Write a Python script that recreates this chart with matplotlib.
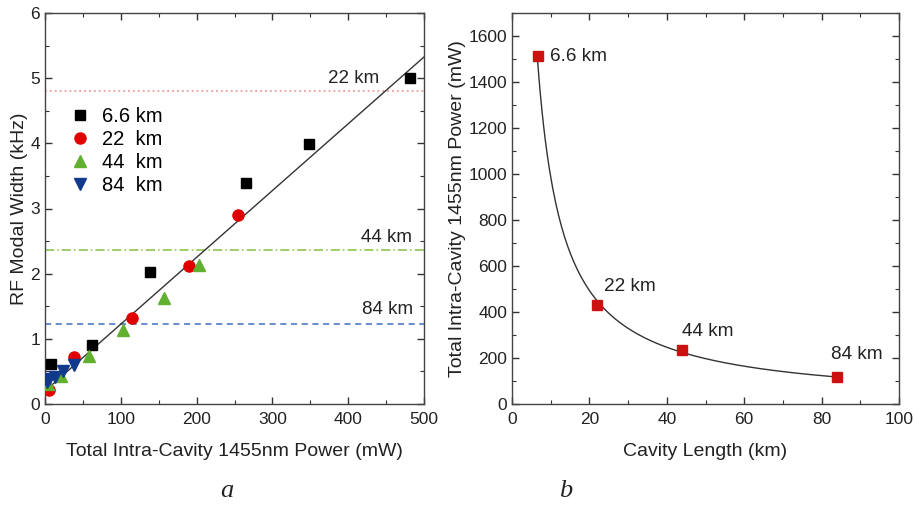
import numpy as np
import matplotlib.pyplot as plt
from matplotlib.ticker import MultipleLocator

plt.rcParams['font.family'] = ['Liberation Sans', 'DejaVu Sans']

# ---- panel a: RF modal width vs intra-cavity power ----
p66 = [7.5, 61.6, 138, 265, 348, 482]
w66 = [0.61, 0.91, 2.02, 3.39, 3.99, 5.01]
p22 = [5.7, 38, 115, 190, 255]
w22 = [0.21, 0.72, 1.32, 2.12, 2.90]
p44 = [4.4, 20.7, 58.5, 103, 157, 203]
w44 = [0.30, 0.43, 0.73, 1.14, 1.62, 2.13]
p84 = [2, 5, 13, 24, 38]
w84 = [0.33, 0.38, 0.42, 0.51, 0.60]

fit_slope = 0.01025     # kHz per mW
fit_icpt = 0.2
fit_range = [5, 500]

lim_vals = [4.80, 2.37, 1.23]          # horizontal limit lines
lim_names = ['22 km', '44 km', '84 km']
lim_colors = ['#ee8a8a', '#88c040', '#3f6fc0']
lim_styles = [(0, (1.2, 2.0)), (0, (6, 2, 1, 2)), (0, (4, 3))]
lim_txt = [(441, 5.0), (484, 2.56), (486, 1.45)]

# ---- panel b: power vs cavity length ----
L = np.array([6.6, 22, 44, 84])
P = np.array([1513, 430, 234, 116])
L_names = ['6.6 km', '22 km', '44 km', '84 km']
L_txt = [(9.8, 1509), (23.8, 509), (43.9, 317), (82.4, 217)]

fig = plt.figure(figsize=(9.14, 5.05), dpi=100)
ax1 = fig.add_axes([45/914, 101/505, 379/914, 391/505])
ax2 = fig.add_axes([512/914, 101/505, 387/914, 391/505])

tc = '#222222'
for ax in (ax1, ax2):
    ax.tick_params(which='both', direction='in', top=True, right=True,
                   labelsize=12.5, colors='#333333', labelcolor=tc)
    ax.tick_params(which='major', length=5, width=1)
    ax.tick_params(which='minor', length=3, width=0.8)
    ax.tick_params(axis='x', pad=6)
    for s in ax.spines.values():
        s.set_color('#444444')
        s.set_linewidth(1)

# panel a
for v, c, ls in zip(lim_vals, lim_colors, lim_styles):
    ax1.axhline(v, color=c, lw=1.1, ls=ls, zorder=1)
for (x, y), t in zip(lim_txt, lim_names):
    ax1.text(x, y, t, ha='right', va='center', fontsize=13.5, color=tc)

xf = np.array(fit_range)
ax1.plot(xf, fit_icpt + fit_slope * xf, color='#333333', lw=1, zorder=2)

ax1.plot(p66, w66, 's', color='black', ms=7, label='6.6 km', zorder=3)
ax1.plot(p22, w22, 'o', color='#e00000', ms=8, label='22  km', zorder=3)
ax1.plot(p44, w44, '^', color='#62b030', ms=8.5, label='44  km', zorder=3)
ax1.plot(p84, w84, 'v', color='#123a8c', ms=8.5, label='84  km', zorder=3)

ax1.set_xlim(0, 500)
ax1.set_ylim(0, 6)
ax1.xaxis.set_major_locator(MultipleLocator(100))
ax1.xaxis.set_minor_locator(MultipleLocator(50))
ax1.yaxis.set_major_locator(MultipleLocator(1))
ax1.yaxis.set_minor_locator(MultipleLocator(0.5))
ax1.set_xlabel('Total Intra-Cavity 1455nm Power (mW)', fontsize=14,
               color=tc, labelpad=11)
ax1.set_ylabel('RF Modal Width (kHz)', fontsize=14, color=tc, labelpad=2)
ax1.legend(loc='upper left', bbox_to_anchor=(0.012, 0.805), frameon=False,
           fontsize=14.5, handletextpad=0.5, labelspacing=0.2,
           handlelength=1.2)

# panel b: power-law fit drawn through the points
n, c0 = np.polyfit(np.log(L), np.log(P), 1)
Lc = np.linspace(L.min(), L.max(), 200)
ax2.plot(Lc, np.exp(c0) * Lc**n, color='#333333', lw=1, zorder=2)
ax2.plot(L, P, 's', color='#cc1111', ms=6.5, zorder=3)
for (x, y), t in zip(L_txt, L_names):
    ax2.text(x, y, t, ha='left', va='center', fontsize=13.7, color=tc)

ax2.set_xlim(0, 100)
ax2.set_ylim(0, 1700)
ax2.xaxis.set_major_locator(MultipleLocator(20))
ax2.xaxis.set_minor_locator(MultipleLocator(10))
ax2.yaxis.set_major_locator(MultipleLocator(200))
ax2.yaxis.set_minor_locator(MultipleLocator(100))
ax2.set_xlabel('Cavity Length (km)', fontsize=14, color=tc, labelpad=11)
ax2.set_ylabel('Total Intra-Cavity 1455nm Power (mW)', fontsize=14,
               color=tc, labelpad=2)

fig.text(227/914, 1 - 491/505, 'a', fontsize=19, style='italic',
         family='Liberation Serif', ha='center', va='center', color=tc)
fig.text(566/914, 1 - 491/505, 'b', fontsize=19, style='italic',
         family='Liberation Serif', ha='center', va='center', color=tc)

fig.savefig('out.png', dpi=100)
